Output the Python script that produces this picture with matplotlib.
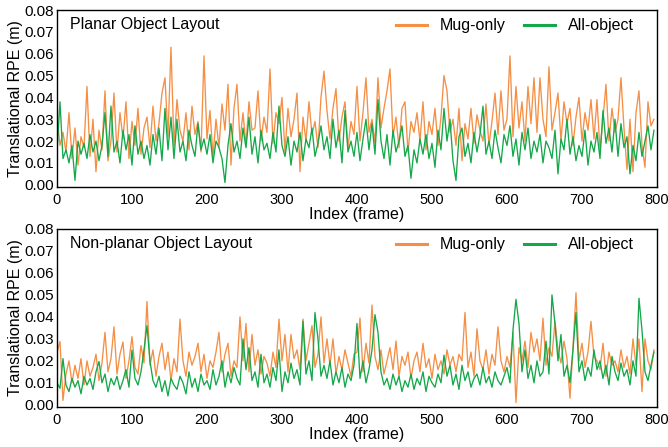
import numpy as np
import matplotlib
matplotlib.use("Agg")
import matplotlib.pyplot as plt

plt.rcParams['font.family'] = ['Liberation Sans', 'DejaVu Sans']

# sampled every 4 frames, values in units of 0.1 mm (x1e-4 m)
frames = list(range(0, 800, 4))

planar_mug = [
    316, 180, 240, 150, 330, 120, 260, 90, 220, 170,
    450, 130, 300, 60, 250, 160, 430, 110, 200, 420,
    150, 330, 210, 380, 120, 290, 180, 350, 140, 260,
    310, 170, 360, 200, 280, 420, 490, 220, 630, 180,
    390, 250, 200, 330, 160, 360, 230, 290, 150, 590,
    210, 340, 130, 300, 170, 370, 250, 460, 90, 350,
    460, 200, 330, 180, 380, 250, 260, 430, 200, 310,
    240, 530, 190, 330, 280, 400, 150, 350, 220, 300,
    420, 60, 310, 200, 380, 230, 290, 170, 400, 520,
    340, 210, 350, 440, 200, 310, 380, 170, 290, 230,
    450, 200, 330, 490, 240, 300, 190, 490, 260, 350,
    430, 530, 220, 310, 170, 350, 380, 150, 290, 240,
    330, 200, 380, 160, 290, 230, 350, 180, 310, 500,
    430, 240, 300, 180, 350, 110, 280, 210, 350, 190,
    320, 250, 200, 370, 180, 290, 420, 230, 430, 250,
    300, 590, 220, 450, 260, 380, 200, 450, 280, 490,
    240, 490, 300, 220, 540, 250, 330, 420, 200, 380,
    280, 350, 180, 310, 400, 200, 330, 250, 390, 210,
    390, 160, 300, 460, 200, 350, 240, 300, 490, 260,
    70, 300, 60, 330, 430, 180, 80, 380, 270, 300,
]

planar_all = [
    150, 380, 120, 160, 100, 180, 20, 200, 140, 190,
    120, 230, 150, 200, 110, 180, 330, 130, 360, 150,
    200, 100, 250, 160, 230, 90, 270, 140, 200, 120,
    180, 90, 230, 140, 260, 110, 350, 160, 310, 120,
    300, 150, 200, 110, 250, 180, 130, 280, 160, 210,
    140, 230, 100, 200, 170, 120, 10, 180, 280, 150,
    200, 120, 260, 170, 310, 140, 220, 100, 250, 160,
    190, 120, 240, 150, 360, 180, 130, 220, 90, 200,
    150, 240, 110, 210, 170, 260, 130, 190, 270, 160,
    220, 120, 300, 170, 250, 100, 340, 150, 200, 130,
    240, 110, 210, 300, 160, 280, 140, 390, 200, 120,
    230, 90, 250, 150, 200, 270, 130, 180, 30, 160,
    100, 210, 140, 230, 120, 190, 80, 250, 160, 350,
    200, 300, 110, 20, 220, 260, 130, 190, 100, 240,
    150, 230, 360, 140, 200, 120, 250, 170, 100, 230,
    180, 270, 130, 210, 90, 240, 160, 260, 120, 200,
    150, 230, 100, 200, 170, 120, 250, 50, 210, 160,
    300, 140, 220, 110, 180, 130, 250, 90, 200, 150,
    240, 120, 340, 190, 260, 150, 300, 130, 280, 170,
    220, 50, 180, 110, 240, 130, 200, 270, 160, 250,
]

nonplanar_mug = [
    240, 288, 20, 140, 200, 100, 180, 120, 210, 90,
    200, 130, 170, 230, 110, 190, 330, 150, 210, 355,
    140, 230, 286, 120, 200, 310, 170, 140, 270, 190,
    470, 180, 250, 130, 220, 280, 160, 240, 110, 210,
    150, 390, 200, 130, 240, 180, 220, 280, 150, 230,
    120, 200, 170, 240, 330, 150, 230, 280, 130, 200,
    170, 400, 200, 370, 150, 320, 180, 250, 140, 220,
    190, 130, 240, 170, 390, 200, 320, 150, 320, 210,
    250, 160, 390, 200, 280, 360, 170, 230, 400, 190,
    300, 180, 300, 140, 220, 160, 250, 190, 130, 230,
    240, 395, 150, 280, 190, 454, 220, 160, 250, 140,
    200, 260, 160, 290, 130, 220, 180, 240, 120, 200,
    240, 150, 280, 170, 210, 120, 230, 160, 200, 140,
    250, 180, 220, 150, 230, 200, 420, 170, 240, 130,
    346, 200, 160, 250, 140, 230, 180, 355, 200, 150,
    220, 170, 330, 10, 260, 200, 290, 170, 330, 240,
    300, 200, 394, 180, 260, 220, 380, 250, 190, 290,
    210, 30, 260, 510, 200, 280, 170, 240, 380, 220,
    200, 160, 280, 130, 240, 180, 200, 150, 250, 170,
    220, 140, 300, 180, 300, 60, 300, 200, 160, 250,
]

nonplanar_all = [
    100, 75, 210, 90, 60, 120, 80, 110, 50, 130,
    90, 120, 70, 150, 197, 100, 140, 60, 120, 90,
    130, 70, 110, 160, 80, 249, 120, 90, 150, 250,
    360, 200, 110, 80, 130, 60, 110, 40, 120, 90,
    70, 130, 100, 50, 150, 80, 120, 60, 140, 90,
    110, 70, 160, 90, 130, 200, 80, 150, 100, 170,
    120, 90, 300, 160, 260, 110, 150, 80, 230, 100,
    140, 80, 170, 110, 250, 60, 150, 100, 190, 120,
    160, 90, 380, 140, 200, 110, 420, 300, 130, 180,
    120, 200, 90, 150, 100, 170, 80, 140, 110, 180,
    370, 120, 200, 100, 160, 250, 410, 330, 150, 90,
    120, 70, 140, 90, 130, 60, 110, 80, 140, 70,
    120, 90, 150, 60, 130, 100, 80, 140, 100, 226,
    130, 180, 90, 140, 70, 180, 110, 150, 80, 120,
    140, 90, 170, 100, 130, 80, 150, 110, 90, 130,
    170, 100, 340, 480, 370, 150, 250, 120, 180, 100,
    200, 130, 150, 290, 140, 500, 370, 200, 320, 130,
    180, 100, 250, 420, 150, 200, 110, 170, 130, 250,
    160, 200, 120, 180, 90, 220, 150, 110, 190, 130,
    160, 90, 200, 130, 485, 340, 150, 110, 180, 240,
]

titles = ["Planar Object Layout", "Non-planar Object Layout"]
series_labels = ["Mug-only", "All-object"]
yticks = [0.00, 0.01, 0.02, 0.03, 0.04, 0.05, 0.06, 0.07, 0.08]
xticks = [0, 100, 200, 300, 400, 500, 600, 700, 800]

orange = '#f58f45'
green = '#14a84a'

fig = plt.figure(figsize=(6.68, 4.47), dpi=100)
ax1 = fig.add_axes([0.0853, 0.5817, 0.8982, 0.3959])
ax2 = fig.add_axes([0.0853, 0.0895, 0.8982, 0.3982])

data = [(planar_mug, planar_all), (nonplanar_mug, nonplanar_all)]
for ax, (mug, allo), title in zip([ax1, ax2], data, titles):
    x = np.array(frames)
    ax.plot(x, np.array(mug) * 1e-4, color=orange, lw=0.95, label=series_labels[0])
    ax.plot(x, np.array(allo) * 1e-4, color=green, lw=0.95, label=series_labels[1])
    ax.set_xlim(0, 800)
    ax.set_ylim(-0.001, 0.08)
    ax.set_yticks(yticks)
    ax.set_yticklabels([f"{v:.2f}" for v in yticks])
    ax.set_xticks(xticks)
    ax.tick_params(axis='y', length=0, labelsize=11, pad=2)
    ax.tick_params(axis='x', length=0, labelsize=10.5, pad=4)
    ax.set_xlabel("Index (frame)", fontsize=11.5, labelpad=0)
    ax.set_ylabel("Translational RPE (m)", fontsize=11.5, labelpad=1)
    ax.text(0.022, 0.92, title, transform=ax.transAxes, fontsize=11.5, va='center', ha='left')
    leg = ax.legend(loc='upper right', ncol=2, frameon=False, fontsize=11.5,
                    handlelength=1.9, columnspacing=1.2, handletextpad=0.8,
                    bbox_to_anchor=(0.985, 1.035))
    for h in leg.get_lines():
        h.set_linewidth(2.2)
    for s in ax.spines.values():
        s.set_linewidth(1.0)

fig.savefig("out.png", dpi=100)
